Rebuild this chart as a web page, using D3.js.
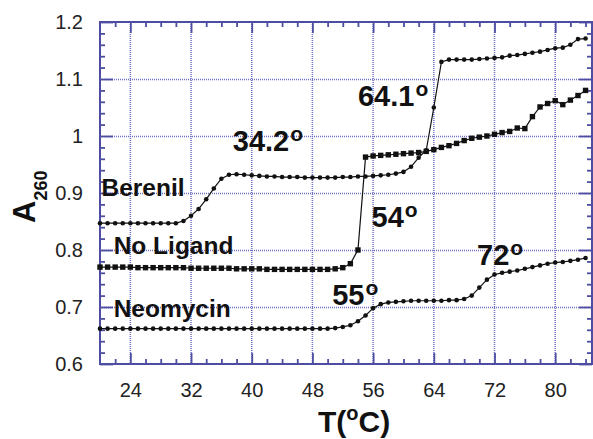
<!DOCTYPE html>
<html>
<head>
<meta charset="utf-8">
<script src="https://cdn.jsdelivr.net/npm/d3@7"></script>
<style>
  body { margin: 0; background: #fff; }
  text { font-family: "Liberation Sans", Arial, Helvetica, sans-serif; }
</style>
</head>
<body>
<svg id="chart" width="593" height="439"></svg>
<script>
// Melting temperatures (°C)
const temps = [20,21,22,23,24,25,26,27,28,29,30,31,32,33,34,35,36,37,38,39,40,41,42,43,44,45,46,47,48,49,50,51,52,53,54,55,56,57,58,59,60,61,62,63,64,65,66,67,68,69,70,71,72,73,74,75,76,77,78,79,80,81,82,83,84];

// Absorbance at 260 nm for each condition
const berenil = [0.847,0.847,0.847,0.847,0.847,0.847,0.847,0.847,0.847,0.847,0.847,
  0.851,0.860,0.872,0.889,0.908,0.925,0.932,0.933,0.932,0.931,0.930,0.929,0.929,0.928,0.928,0.928,0.927,0.927,0.927,0.927,0.927,0.928,0.928,0.929,0.929,0.930,0.931,0.932,0.934,0.937,0.946,0.962,0.975,1.050,1.130,1.134,1.134,1.134,1.134,1.135,1.136,1.137,1.138,1.141,1.142,1.144,1.146,1.148,1.151,1.154,1.155,1.160,1.170,1.171];

const noLigand = [0.770,0.770,0.770,0.770,0.770,0.769,0.769,0.769,0.769,0.769,0.769,0.769,0.768,0.768,0.768,0.768,0.768,0.768,0.767,0.767,0.767,0.767,0.766,0.766,0.766,0.766,0.766,0.766,0.766,0.766,0.766,0.767,0.769,0.776,0.800,
  0.963,0.965,0.966,0.967,0.968,0.969,0.970,0.971,0.973,0.976,0.980,0.983,0.987,0.992,0.996,0.998,1.000,1.003,1.006,1.008,1.014,1.013,1.034,1.051,1.057,1.062,1.055,1.063,1.071,1.080];

const neomycin = [0.662,0.662,0.662,0.662,0.662,0.662,0.662,0.662,0.662,0.662,0.662,0.662,0.662,0.662,0.662,0.662,0.662,0.662,0.662,0.662,0.662,0.662,0.662,0.662,0.662,0.662,0.662,0.662,0.662,0.662,0.662,
  0.663,0.665,0.668,0.675,0.685,0.698,0.705,0.708,0.709,0.710,0.711,0.711,0.711,0.711,0.711,0.712,0.712,0.714,0.720,0.734,0.748,0.757,0.760,0.762,0.764,0.767,0.770,0.773,0.776,0.778,0.779,0.781,0.783,0.786];

// Axis ticks
const xTicks = [24, 32, 40, 48, 56, 64, 72, 80];
const yTicks = [0.6, 0.7, 0.8, 0.9, 1.0, 1.1, 1.2];
const yTickLabels = ["0.6", "0.7", "0.8", "0.9", "1", "1.1", "1.2"];

// Curve names and transition labels
const seriesNames = ["Berenil", "No Ligand", "Neomycin"];
const tmValues = ["34.2", "64.1", "54", "55", "72"];

const svg = d3.select("#chart");
const plotL = 100, plotR = 592, plotT = 22, plotB = 364;
const x = d3.scaleLinear([20, 84.85], [plotL, plotR]);
const y = d3.scaleLinear([0.6, 1.2], [plotB, plotT]);

const axisColor = "#4d4da2";
const gridColor = "#7070c2";

// dotted grid at the major ticks
const grid = svg.append("g");
grid.selectAll("line.gx").data(xTicks).join("line")
  .attr("x1", d => x(d)).attr("x2", d => x(d))
  .attr("y1", plotT).attr("y2", plotB)
  .attr("stroke", gridColor).attr("stroke-width", 1.5)
  .attr("stroke-dasharray", "1,1");
grid.selectAll("line.gy").data(yTicks.slice(1, -1)).join("line")
  .attr("x1", plotL).attr("x2", plotR)
  .attr("y1", d => Math.round(y(d)) + 0.5).attr("y2", d => Math.round(y(d)) + 0.5)
  .attr("stroke", gridColor).attr("stroke-width", 1.5)
  .attr("stroke-dasharray", "1,1");

// minor tick positions
const xMinor = d3.range(22, 85, 2).filter(v => !xTicks.includes(v));
const yMinor = d3.range(0.62, 1.2, 0.02).map(v => +v.toFixed(2))
  .filter(v => !yTicks.some(t => Math.abs(t - v) < 1e-6));

function styleAxis(g) {
  g.select(".domain").remove();
  g.selectAll(".tick line").attr("stroke", axisColor).attr("stroke-width", 1.8);
  g.selectAll("text").attr("font-size", 20).attr("fill", "#222")
    .attr("font-family", "'Liberation Sans', Arial, sans-serif");
}

svg.append("g").attr("transform", `translate(0,${plotB})`)
  .call(d3.axisBottom(x).tickValues(xTicks).tickSize(-11).tickPadding(19))
  .call(styleAxis);
svg.append("g").attr("transform", `translate(0,${plotB})`)
  .call(d3.axisBottom(x).tickValues(xMinor).tickSize(-5).tickFormat(""))
  .call(styleAxis);
svg.append("g").attr("transform", `translate(0,${plotT})`)
  .call(d3.axisTop(x).tickValues(xTicks).tickSize(-11).tickFormat(""))
  .call(styleAxis);
svg.append("g").attr("transform", `translate(0,${plotT})`)
  .call(d3.axisTop(x).tickValues(xMinor).tickSize(-5).tickFormat(""))
  .call(styleAxis);
svg.append("g").attr("transform", `translate(${plotL},0)`)
  .call(d3.axisLeft(y).tickValues(yTicks).tickSize(-13).tickPadding(17)
    .tickFormat((d, i) => yTickLabels[i]))
  .call(styleAxis);
svg.append("g").attr("transform", `translate(${plotL},0)`)
  .call(d3.axisLeft(y).tickValues(yMinor).tickSize(-5).tickFormat(""))
  .call(styleAxis);
svg.append("g").attr("transform", `translate(${plotR},0)`)
  .call(d3.axisRight(y).tickValues(yTicks).tickSize(-13).tickFormat(""))
  .call(styleAxis);
svg.append("g").attr("transform", `translate(${plotR},0)`)
  .call(d3.axisRight(y).tickValues(yMinor).tickSize(-5).tickFormat(""))
  .call(styleAxis);

// plot frame
svg.append("rect")
  .attr("x", plotL).attr("y", plotT)
  .attr("width", plotR - plotL).attr("height", plotB - plotT)
  .attr("fill", "none").attr("stroke", axisColor).attr("stroke-width", 2);

// curves
const series = [
  { values: berenil, marker: "circle" },
  { values: noLigand, marker: "square" },
  { values: neomycin, marker: "circle" }
];
const line = d3.line().x(d => x(d[0])).y(d => y(d[1]));
const curves = svg.append("g");
series.forEach(s => {
  const pts = temps.map((t, i) => [t, s.values[i]]);
  curves.append("path").datum(pts)
    .attr("d", line).attr("fill", "none")
    .attr("stroke", "#111").attr("stroke-width", 1.2);
  if (s.marker === "circle") {
    curves.append("g").selectAll("circle").data(pts).join("circle")
      .attr("cx", d => x(d[0])).attr("cy", d => y(d[1]))
      .attr("r", 2.3).attr("fill", "#111");
  } else {
    curves.append("g").selectAll("rect").data(pts).join("rect")
      .attr("x", d => x(d[0]) - 2.7).attr("y", d => y(d[1]) - 2.7)
      .attr("width", 5.4).attr("height", 5.4).attr("fill", "#111");
  }
});

// curve names
const namePos = [[20.2, 0.895], [21.8, 0.793], [21.8, 0.682]];
svg.append("g").selectAll("text").data(seriesNames).join("text")
  .attr("x", (d, i) => x(namePos[i][0]))
  .attr("y", (d, i) => y(namePos[i][1]))
  .attr("font-size", 24.5).attr("font-weight", "bold").attr("fill", "#111")
  .text(d => d);

// transition temperatures
const tmPos = [[37.5, 0.9745], [54.0, 1.0533], [55.8, 0.840], [50.6, 0.703], [69.7, 0.774]];
const tm = svg.append("g").selectAll("text").data(tmValues).join("text")
  .attr("x", (d, i) => x(tmPos[i][0]))
  .attr("y", (d, i) => y(tmPos[i][1]))
  .attr("font-size", 29).attr("font-weight", "bold").attr("fill", "#111");
tm.append("tspan").text(d => d);
tm.append("tspan").attr("font-size", 21).attr("dy", -10).attr("dx", 1).text("o");

// axis titles
const xt = svg.append("text")
  .attr("x", 318).attr("y", 432)
  .attr("font-size", 30).attr("font-weight", "bold").attr("fill", "#111");
xt.append("tspan").text("T(");
xt.append("tspan").attr("font-size", 20).attr("dy", -12).text("o");
xt.append("tspan").attr("dy", 12).text("C)");

const yt = svg.append("text")
  .attr("transform", "translate(35,223) rotate(-90)")
  .attr("font-size", 31).attr("font-weight", "bold").attr("fill", "#111");
yt.append("tspan").text("A");
yt.append("tspan").attr("font-size", 18).attr("dy", 12).text("260");
</script>
</body>
</html>
